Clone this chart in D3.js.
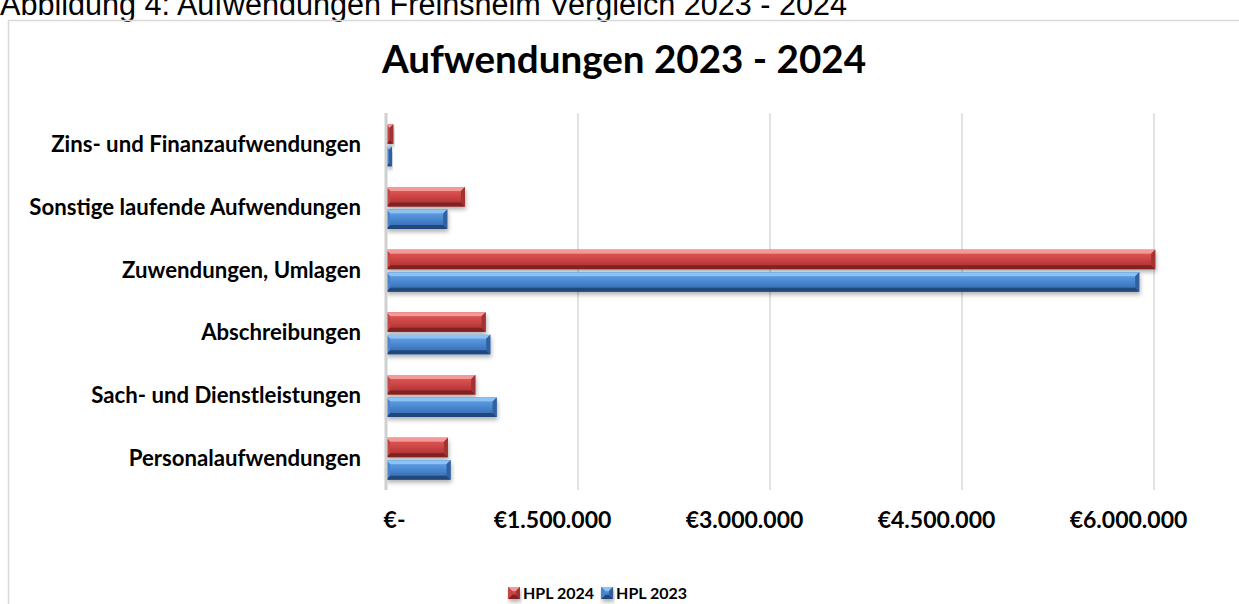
<!DOCTYPE html>
<html>
<head>
<meta charset="utf-8">
<script src="https://cdn.jsdelivr.net/npm/d3@7"></script>
<style>
  body { margin: 0; background: #fff; }
  svg { display: block; }
</style>
</head>
<body>
<div id="chart"></div>
<script>
// data
var categories = ["Zins- und Finanzaufwendungen", "Sonstige laufende Aufwendungen", "Zuwendungen, Umlagen",
  "Abschreibungen", "Sach- und Dienstleistungen", "Personalaufwendungen"];
var seriesNames = ["HPL 2024", "HPL 2023"];
var hpl2024 = [57000, 617000, 6010000, 779000, 698000, 484000];
var hpl2023 = [47000, 479000, 5885000, 815000, 865000, 505000];
var xTicks = [0, 1500000, 3000000, 4500000, 6000000];

var svgWidth = 1239;
var svgHeight = 604;

var margin = {top: 114, right: 85, bottom: 114, left: 386};
var width = svgWidth - margin.left - margin.right;
var plotBottom = 490;

var svg = d3.select("#chart")
  .append("svg")
  .attr("width", svgWidth)
  .attr("height", svgHeight);

var defs = svg.append("defs");
var shadow = defs.append("filter").attr("id", "shadow")
  .attr("x", "-5%").attr("y", "-40%").attr("width", "115%").attr("height", "200%");
shadow.append("feDropShadow")
  .attr("dx", 1).attr("dy", 3).attr("stdDeviation", 2.2)
  .attr("flood-color", "#000").attr("flood-opacity", 0.3);

var palette = {
  "HPL 2024": {top: "#f39a98", faceTop: "#dc5452", faceBottom: "#b63536", left: "#c54745", right: "#a33232", bottom: "#7e2222"},
  "HPL 2023": {top: "#8cc2f4", faceTop: "#5a9be2", faceBottom: "#3a72bb", left: "#4a85cc", right: "#30609e", bottom: "#22477a"}
};

seriesNames.forEach(function(s, i) {
  var g = defs.append("linearGradient").attr("id", "face" + i)
    .attr("x1", 0).attr("y1", 0).attr("x2", 0).attr("y2", 1);
  g.append("stop").attr("offset", "0%").attr("stop-color", palette[s].faceTop);
  g.append("stop").attr("offset", "100%").attr("stop-color", palette[s].faceBottom);
});

var labelFont = "Lato, 'Open Sans', sans-serif";

// caption above the chart box (cut at the top, as in the original)
svg.append("text")
  .attr("x", 0)
  .attr("y", 15)
  .attr("font-family", "'Liberation Sans', Arial, sans-serif")
  .attr("font-size", "30.6px")
  .attr("fill", "#000")
  .text("Abbildung 4: Aufwendungen Freinsheim Vergleich 2023 - 2024");

// chart box
svg.append("path")
  .attr("d", "M8.5," + (svgHeight + 5) + " V20.5 H" + (svgWidth + 5))
  .attr("fill", "none")
  .attr("stroke", "#d9d9d9")
  .attr("stroke-width", 1.5);

svg.append("text")
  .attr("x", 624)
  .attr("y", 73)
  .attr("text-anchor", "middle")
  .attr("font-family", labelFont)
  .attr("font-weight", "bold")
  .attr("font-size", "38.6px")
  .text("Aufwendungen 2023 - 2024");

var xScale = d3.scaleLinear()
  .domain([0, 6000000])
  .range([margin.left, margin.left + width]);

var yScale = d3.scaleBand()
  .domain(categories)
  .range([margin.top, plotBottom])
  .paddingInner(0.33)
  .paddingOuter(0.165);

var ySub = d3.scaleBand()
  .domain(seriesNames)
  .range([0, yScale.bandwidth()])
  .paddingInner(0.13);

// gridlines
svg.append("g")
  .selectAll("line")
  .data(xTicks.slice(1))
  .enter()
  .append("line")
  .attr("x1", d => xScale(d))
  .attr("x2", d => xScale(d))
  .attr("y1", margin.top - 1)
  .attr("y2", plotBottom)
  .attr("stroke", "#d9d9d9")
  .attr("stroke-width", 1.5);

// value axis labels (accounting format, shifted like the original)
var bottomAxis = d3.axisBottom(xScale)
  .tickValues(xTicks)
  .tickSize(0)
  .tickPadding(22)
  .tickFormat(d => d === 0 ? "€-" : "€" + d3.format(",")(d).replace(/,/g, "."));

var xAxisG = svg.append("g")
  .attr("transform", `translate(0, ${plotBottom})`)
  .call(bottomAxis);
xAxisG.select(".domain").remove();
xAxisG.selectAll("text")
  .attr("dx", d => d === 0 ? 8 : -26)
  .attr("font-family", labelFont)
  .attr("font-weight", "bold")
  .attr("font-size", "23px")
  .attr("fill", "#000");

// category axis
var leftAxis = d3.axisLeft(yScale).tickSize(0).tickPadding(25);
var yAxisG = svg.append("g")
  .attr("transform", `translate(${margin.left}, 0)`)
  .call(leftAxis);
yAxisG.select(".domain").remove();
yAxisG.selectAll("text")
  .attr("font-family", labelFont)
  .attr("font-weight", "bold")
  .attr("font-size", "22.2px")
  .attr("fill", "#000");

// bevelled bar shape
function bevel(g, x0, x1, y, h, col, faceId) {
  var b = Math.min(4, (x1 - x0) / 2, h / 2);
  g.append("rect").attr("x", x0).attr("y", y).attr("width", x1 - x0).attr("height", h)
    .attr("fill", col.faceBottom).attr("filter", "url(#shadow)");
  g.append("rect").attr("x", x0 + b).attr("y", y + b).attr("width", Math.max(0, x1 - x0 - 2 * b)).attr("height", h - 2 * b)
    .attr("fill", "url(#" + faceId + ")");
  var polys = [
    {pts: [[x0, y], [x1, y], [x1 - b, y + b], [x0 + b, y + b]], fill: col.top},
    {pts: [[x0, y + h], [x1, y + h], [x1 - b, y + h - b], [x0 + b, y + h - b]], fill: col.bottom},
    {pts: [[x0, y], [x0 + b, y + b], [x0 + b, y + h - b], [x0, y + h]], fill: col.left},
    {pts: [[x1, y], [x1 - b, y + b], [x1 - b, y + h - b], [x1, y + h]], fill: col.right}
  ];
  polys.forEach(function(p) {
    g.append("polygon").attr("points", p.pts.map(q => q.join(",")).join(" ")).attr("fill", p.fill);
  });
}

var rows = categories.map(function(c, i) {
  return {cat: c, values: [{s: "HPL 2024", v: hpl2024[i]}, {s: "HPL 2023", v: hpl2023[i]}]};
});

var bars = svg.append("g");
rows.forEach(function(r) {
  r.values.forEach(function(d) {
    var g = bars.append("g");
    var idx = seriesNames.indexOf(d.s);
    bevel(g, xScale(0), xScale(d.v), yScale(r.cat) + ySub(d.s), ySub.bandwidth(), palette[d.s], "face" + idx);
  });
});

// category axis line
svg.append("line")
  .attr("x1", xScale(0)).attr("x2", xScale(0))
  .attr("y1", margin.top - 1).attr("y2", plotBottom)
  .attr("stroke", "#d0d0d0")
  .attr("stroke-width", 3);

// legend
var legend = svg.append("g").attr("transform", "translate(508, 593)");
var lx = 0;
seriesNames.forEach(function(s, i) {
  var item = legend.append("g").attr("transform", `translate(${lx}, 0)`);
  bevel(item, 0, 12, -6, 12, palette[s], "face" + i);
  var t = item.append("text")
    .attr("x", 15)
    .attr("y", 0)
    .attr("dy", "0.36em")
    .attr("font-family", labelFont)
    .attr("font-weight", "bold")
    .attr("font-size", "16px")
    .text(s);
  lx += 15 + t.node().getComputedTextLength() + 7;
});
</script>
</body>
</html>
